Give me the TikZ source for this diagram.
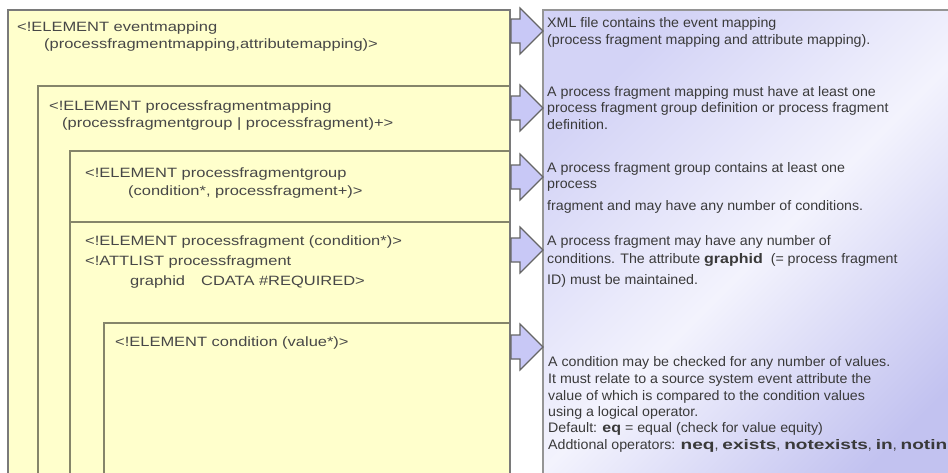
\documentclass[tikz,border=0pt]{standalone}
\usepackage{fontspec}
\setmainfont{Liberation Sans}[BoldFeatures={FakeStretch=1.12}]
\newfontfamily\lfont[FakeStretch=1.22]{Liberation Sans}
\newfontfamily\rfont[FakeStretch=1.03,BoldFeatures={FakeStretch=1.16}]{Liberation Sans}
\newfontfamily\rwide[FakeStretch=1.38]{Liberation Sans Bold}
\newcommand{\wb}[1]{{\rwide #1}}
\definecolor{ybg}{HTML}{FFFFCC}
\definecolor{yline}{HTML}{85856A}
\definecolor{edgegray}{HTML}{7A7A7A}
\definecolor{afill}{HTML}{C8C8F6}
\definecolor{aline}{HTML}{666666}
\definecolor{lav}{HTML}{D3D3F6}
\definecolor{lavdark}{HTML}{C2C2F0}
\definecolor{lavmid}{HTML}{F3F3FD}
\definecolor{ltext}{HTML}{474747}
\definecolor{rtext}{HTML}{3A3A3A}
\tikzset{
  ybox/.style={draw=yline, line width=1.4pt, fill=ybg},
  lt/.style={anchor=base west, inner sep=0pt, text=ltext, font=\lfont\fontsize{13.5}{16}\selectfont},
  rt/.style={anchor=base west, inner sep=0pt, text=rtext, font=\rfont\fontsize{13.8}{16}\selectfont},
  blockarrow/.pic={
    \draw[fill=afill, draw=aline, line width=1.1pt, line join=miter]
      (511,-12) -- (520,-12) -- (520,-23) -- (543,0) -- (520,23) -- (520,12) -- (511,12) -- cycle;
  }
}
\begin{document}
\begin{tikzpicture}[x=1pt,y=-1pt]
\useasboundingbox (0,0) rectangle (948,472);
\clip (0,0) rectangle (948,472);
\fill[white] (0,0) rectangle (948,472);

% explanation panel
\draw[draw=edgegray!80, line width=1.2pt, top color=lav, bottom color=lavdark, middle color=lavmid, shading angle=45]
  (543,10) rectangle (975,500);

% nested yellow boxes
\draw[ybox, draw=edgegray] (8,10) rectangle (510,500);
\draw[ybox] (38,86) rectangle (510,500);
\draw[ybox] (70,151) rectangle (510,222);
\draw[ybox] (70,222) rectangle (510,500);
\draw[ybox] (104,323) rectangle (510,500);
\draw[draw=edgegray, line width=2.6pt] (510,9) -- (510,500);

% arrows
\pic at (0,31) {blockarrow};
\pic at (0,108) {blockarrow};
\pic at (0,177) {blockarrow};
\pic at (0,250) {blockarrow};
\pic at (0,347) {blockarrow};

% left DTD text
\node[lt] (e1a) at (17,31) {<!ELEMENT eventmapping};
\node[lt] (e1b) at (44,48) {(processfragmentmapping,attributemapping)>};
\node[lt] (e2a) at (49,110) {<!ELEMENT processfragmentmapping};
\node[lt] (e2b) at (62,127) {(processfragmentgroup | processfragment)+>};
\node[lt] (e3a) at (85,177) {<!ELEMENT processfragmentgroup};
\node[lt] (e3b) at (128,195) {(condition*, processfragment+)>};
\node[lt] (e4a) at (85,245) {<!ELEMENT processfragment (condition*)>};
\node[lt] (e4b) at (85,265) {<!ATTLIST processfragment};
\node[lt] (e4c) at (130,285) {graphid\hspace{16pt}CDATA \#REQUIRED>};
\node[lt] (e5a) at (115,346) {<!ELEMENT condition (value*)>};

% right explanations
\node[rt] (d1a) at (547,27) {XML file contains the event mapping};
\node[rt] (d1b) at (547,44) {(process fragment mapping and attribute mapping).};
\node[rt] (d2a) at (547,96) {A process fragment mapping must have at least one};
\node[rt] (d2b) at (547,112) {process fragment group definition or process fragment};
\node[rt] (d2c) at (547,129) {definition.};
\node[rt] (d3a) at (547,172) {A process fragment group contains at least one};
\node[rt] (d3b) at (547,188) {process};
\node[rt] (d3c) at (547,210) {fragment and may have any number of conditions.};
\node[rt] (d4a) at (547,245) {A process fragment may have any number of};
\node[rt] (d4b) at (547,263) {conditions. The attribute \textbf{graphid}\ \ (= process fragment};
\node[rt] (d4c) at (547,284) {ID) must be maintained.};
\node[rt] (d5a) at (548,366) {A condition may be checked for any number of values.};
\node[rt] (d5b) at (548,383) {It must relate to a source system event attribute the};
\node[rt] (d5c) at (548,400) {value of which is compared to the condition values};
\node[rt] (d5d) at (548,416) {using a logical operator.};
\node[rt] (d5e) at (548,432) {Default: \textbf{eq} = equal (check for value equity)};
\node[rt] (d5f) at (548,449) {Addtional operators: \wb{neq}, \wb{exists}, \wb{notexists}, \wb{in}, \wb{notin}};
\end{tikzpicture}
\end{document}
